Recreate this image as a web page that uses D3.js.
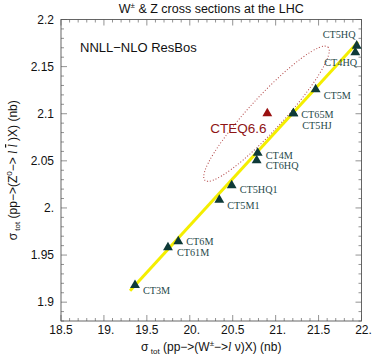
<!DOCTYPE html>
<html>
<head>
<meta charset="utf-8">
<script src="https://cdn.jsdelivr.net/npm/d3@7"></script>
<style>
  body { margin: 0; background: #fff; }
  svg text { font-family: "Liberation Sans", Arial, sans-serif; }
  .lab { font-family: "Liberation Serif", "Times New Roman", serif; font-size: 10.2px; fill: #1f4a4a; }
</style>
</head>
<body>
<svg id="chart" width="374" height="358"></svg>
<script>
"use strict";

// CT fits (W xsec, Z xsec) in nb
const names = ["CT3M", "CT61M", "CT6M", "CT5M1", "CT5HQ1", "CT6HQ", "CT4M", "CT65M", "CT5HJ", "CT5M", "CT4HQ", "CT5HQ"]
const wXsec = [19.362, 19.746, 19.866, 20.344, 20.488, 20.779, 20.791, 21.206, 21.206, 21.466, 21.928, 21.944]
const zXsec = [1.9181, 1.958, 1.9644, 2.0085, 2.024, 2.0505, 2.0583, 2.1002, 2.1002, 2.1257, 2.1651, 2.1721]

// CTEQ6.6 central value and the ends of its ellipse long axis
const cteqPoint = [20.903, 2.1002]
const ellipseEnds = [[20.177, 2.0293], [21.610, 2.1707]]

// yellow fit line
const lineW = [19.304, 21.959]
const lineZ = [1.9122, 2.1761]

const xTicks = [18.5, 19, 19.5, 20, 20.5, 21, 21.5, 22]
const xTickLabels = ["18.5", "19.", "19.5", "20.", "20.5", "21.", "21.5", "22."]
const yTicks = [1.9, 1.95, 2.0, 2.05, 2.1, 2.15, 2.2]
const yTickLabels = ["1.9", "1.95", "2.", "2.05", "2.1", "2.15", "2.2"]

// label placement (pixel offsets from the marker), layout only
const labelPos = {
  CT3M: [8, 9], CT61M: [9, 8], CT6M: [8, 4], CT5M1: [8, 9], CT5HQ1: [8, 8],
  CT6HQ: [9, 9], CT4M: [8, 6], CT65M: [8, 4], CT5HJ: [9, 15], CT5M: [8, 9],
  CT4HQ: [-31, 14], CT5HQ: [-34, -8]
}

const svg = d3.select("#chart")
const L = 61, R = 361.5, T = 19.5, B = 321

const x = d3.scaleLinear().domain([18.5, 22]).range([L, R])
const y = d3.scaleLinear().domain([1.88, 2.2]).range([B, T])

// title
svg.append("text").attr("x", (L + R) / 2).attr("y", 13).attr("text-anchor", "middle")
  .attr("font-size", 12.5).attr("fill", "#111")
  .html('W<tspan dy="-5" font-size="8">±</tspan><tspan dy="5"> &amp; Z cross sections at the LHC</tspan>')

// frame ticks, inward, on all four sides
const tickCol = "#777"
const xMinor = d3.range(185, 221).map(d => d / 10)
const yMinor = d3.range(188, 221).map(d => d / 100)
const isMajorX = v => Math.abs(v * 2 - Math.round(v * 2)) < 1e-6
const isMajorY = v => Math.abs(v * 20 - Math.round(v * 20)) < 1e-6

const tg = svg.append("g").attr("stroke", tickCol).attr("stroke-width", 0.8)
xMinor.forEach(v => {
  const len = isMajorX(v) ? 6 : 3
  tg.append("line").attr("x1", x(v)).attr("x2", x(v)).attr("y1", B).attr("y2", B - len)
  tg.append("line").attr("x1", x(v)).attr("x2", x(v)).attr("y1", T).attr("y2", T + len)
})
yMinor.forEach(v => {
  const len = isMajorY(v) ? 6 : 3
  tg.append("line").attr("y1", y(v)).attr("y2", y(v)).attr("x1", L).attr("x2", L + len)
  tg.append("line").attr("y1", y(v)).attr("y2", y(v)).attr("x1", R).attr("x2", R - len)
})

svg.append("rect").attr("x", L).attr("y", T).attr("width", R - L).attr("height", B - T)
  .attr("fill", "none").attr("stroke", "#555").attr("stroke-width", 0.9)

// tick labels
svg.append("g").selectAll("text").data(xTicks).enter().append("text")
  .attr("x", (d, i) => x(d) + (xTickLabels[i].endsWith(".") ? 2 : 0))
  .attr("y", B + 13).attr("text-anchor", "middle").attr("font-size", 12).attr("fill", "#111")
  .text((d, i) => xTickLabels[i])
svg.append("g").selectAll("text").data(yTicks).enter().append("text")
  .attr("x", L - 7).attr("y", d => y(d) + 4).attr("text-anchor", "end")
  .attr("font-size", 12).attr("fill", "#111")
  .text((d, i) => yTickLabels[i])

// axis titles
svg.append("text").attr("x", (L + R) / 2).attr("y", 351).attr("text-anchor", "middle")
  .attr("font-size", 12).attr("fill", "#111")
  .html('σ<tspan dy="3" font-size="8"> tot</tspan><tspan dy="-3"> (pp−&gt;(W</tspan><tspan dy="-5" font-size="8">±</tspan><tspan dy="5">−&gt;</tspan><tspan font-style="italic" font-family="Liberation Serif">l</tspan><tspan> ν)X) (nb)</tspan>')
svg.append("text").attr("transform", "translate(17," + (T + B) / 2 + ") rotate(-90)")
  .attr("text-anchor", "middle").attr("font-size", 12).attr("fill", "#111")
  .html('σ<tspan dy="3" font-size="8"> tot</tspan><tspan dy="-3"> (pp−&gt;(Z</tspan><tspan dy="-5" font-size="8">0</tspan><tspan dy="5">−&gt; </tspan><tspan font-style="italic" font-family="Liberation Serif">l </tspan><tspan font-style="italic" font-family="Liberation Serif" text-decoration="overline">l</tspan><tspan> )X) (nb)</tspan>')

svg.append("text").attr("x", 80).attr("y", 52).attr("font-size", 13).attr("fill", "#111")
  .text("NNLL−NLO ResBos")

// fit line
svg.append("line")
  .attr("x1", x(lineW[0])).attr("y1", y(lineZ[0]))
  .attr("x2", x(lineW[1])).attr("y2", y(lineZ[1]))
  .attr("stroke", "#f4ee00").attr("stroke-width", 3)

// CTEQ6.6 ellipse
const e0 = [x(ellipseEnds[0][0]), y(ellipseEnds[0][1])]
const e1 = [x(ellipseEnds[1][0]), y(ellipseEnds[1][1])]
const ecx = (e0[0] + e1[0]) / 2, ecy = (e0[1] + e1[1]) / 2
const ea = Math.hypot(e1[0] - e0[0], e1[1] - e0[1]) / 2
const eang = Math.atan2(e1[1] - e0[1], e1[0] - e0[0]) * 180 / Math.PI
svg.append("ellipse").attr("cx", ecx).attr("cy", ecy).attr("rx", ea).attr("ry", 17)
  .attr("transform", "rotate(" + eang + "," + ecx + "," + ecy + ")")
  .attr("fill", "none").attr("stroke", "#b24545").attr("stroke-width", 1)
  .attr("stroke-dasharray", "1,2")

// markers
const tri = d3.symbol().type(d3.symbolTriangle).size(42)
svg.append("g").selectAll("path").data(names).enter().append("path")
  .attr("d", tri)
  .attr("transform", (d, i) => "translate(" + x(wXsec[i]) + "," + y(zXsec[i]) + ")")
  .attr("fill", "#0e3a38")
svg.append("path").attr("d", tri)
  .attr("transform", "translate(" + x(cteqPoint[0]) + "," + y(cteqPoint[1]) + ")")
  .attr("fill", "#9a1010")

svg.append("g").selectAll("text").data(names).enter().append("text")
  .attr("class", "lab")
  .attr("x", (d, i) => x(wXsec[i]) + labelPos[d][0])
  .attr("y", (d, i) => y(zXsec[i]) + labelPos[d][1])
  .text(d => d)

svg.append("text").attr("x", x(cteqPoint[0]) - 57).attr("y", y(cteqPoint[1]) + 19)
  .attr("font-size", 13.5).attr("fill", "#8e1515").text("CTEQ6.6")
</script>
</body>
</html>
